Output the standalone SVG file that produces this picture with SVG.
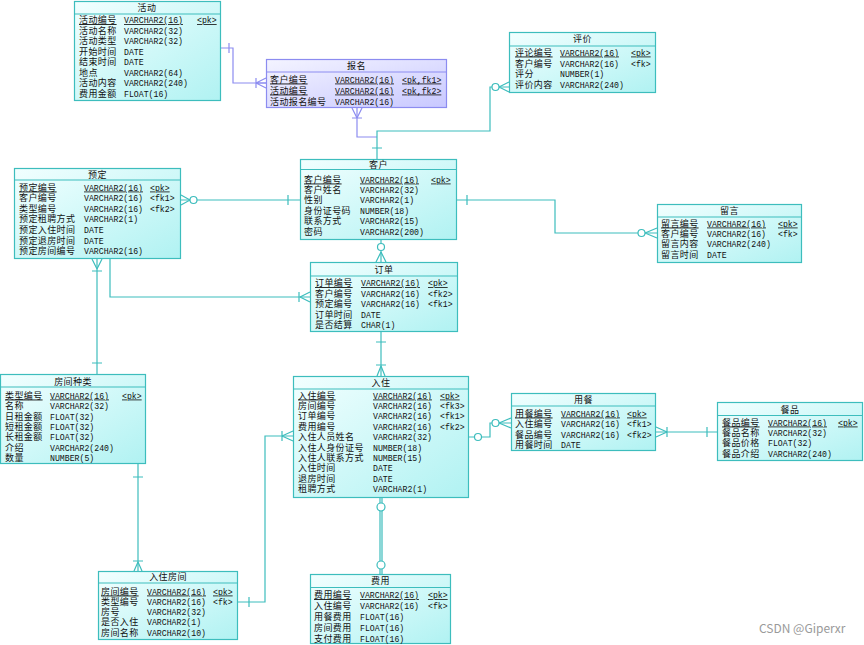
<svg xmlns="http://www.w3.org/2000/svg" width="864" height="645" viewBox="0 0 864 645">
<defs>
<linearGradient id="gc" x1="0" y1="0" x2="1" y2="1"><stop offset="0" stop-color="#f2ffff"/><stop offset="1" stop-color="#b0f2f2"/></linearGradient>
<linearGradient id="gp" x1="0" y1="0" x2="1" y2="1"><stop offset="0" stop-color="#f4f4ff"/><stop offset="1" stop-color="#c8c8ff"/></linearGradient>
<style>
.box{fill:url(#gc);stroke:#3dbdbd;stroke-width:1.2}
.boxp{fill:url(#gp);stroke:#8c8cf0;stroke-width:1.2}
.sep{stroke:#3dbdbd;stroke-width:1}
.sepp{stroke:#8c8cf0;stroke-width:1}
.c{font-family:"Noto Sans CJK SC","Noto Sans CJK JP",sans-serif;font-size:9px;letter-spacing:0.4px;fill:#111}
.m{font-family:"Liberation Mono",monospace;font-size:8.2px;fill:#111}
.ttl{text-anchor:middle}
.u{text-decoration:underline}
.ln{stroke:#3dbdbd;stroke-width:1.2;fill:none}
.lp{stroke:#8c8cf0;stroke-width:1.2;fill:none}
.ci{stroke:#3dbdbd;stroke-width:1.2;fill:#fff}
.wm{font-family:"Noto Sans CJK SC","Liberation Sans",sans-serif;font-size:12px;fill:#9a9a9a}
</style>
</defs>
<rect width="864" height="645" fill="#fff"/>

<g id="connectors">
<path class="lp" d="M220,48 H233 V83 H266"/>
<path class="lp" d="M229,43 V53 M256,78 V88 M256,83 L266,78 M256,83 L266,83 M256,83 L266,88"/>
<path class="lp" d="M357,108 V137 H377"/>
<path class="lp" d="M352,118 H362 M357,118 L352,108 M357,118 L362,108"/>
<path class="ln" d="M509,87 H490 V131 H377 V159"/>
<path class="ln" d="M499,87 L509,82 M499,87 L509,92 M372,148 H382"/>
<circle class="ci" cx="495.5" cy="87" r="3.5"/>
<path class="ln" d="M181,200 H300"/>
<path class="ln" d="M190,200 L181,195 M190,200 L181,205 M288,195 V205"/>
<circle class="ci" cx="193.5" cy="200" r="3.5"/>
<path class="ln" d="M457,200 H555 V233 H657"/>
<path class="ln" d="M467,195 V205 M645,233 L657,228 M645,233 L657,238"/>
<circle class="ci" cx="641.5" cy="233" r="3.5"/>
<path class="ln" d="M381,240 V262"/>
<path class="ln" d="M381,252 L376,262 M381,252 L386,262"/>
<circle class="ci" cx="381" cy="247" r="3.5"/>
<path class="ln" d="M110,259 V297 H310"/>
<path class="ln" d="M299,292 V302 M300,297 L310,292 M300,297 L310,302"/>
<path class="ln" d="M97,259 V374"/>
<path class="ln" d="M97,269 L92,259 M97,269 L102,259 M92,271 H102 M92,363 H102"/>
<path class="ln" d="M381,332 V376"/>
<path class="ln" d="M376,342 H386 M376,365 H386 M381,366 L377,376 M381,366 L385,376"/>
<path class="ln" d="M380,498 V574 M382,498 V574"/>
<circle class="ci" cx="381" cy="507" r="4"/>
<circle class="ci" cx="381" cy="565" r="4"/>
<path class="ln" d="M469,437 H490 V423 H511"/>
<path class="ln" d="M499,423 L511,418 M499,423 L511,428"/>
<circle class="ci" cx="478" cy="437" r="3.5"/>
<circle class="ci" cx="495.5" cy="423" r="3.5"/>
<path class="ln" d="M656,432 H717"/>
<path class="ln" d="M667,432 L656,427 M667,432 L656,437 M667,427 V437 M707,427 V437"/>
<path class="ln" d="M138,464 V571"/>
<path class="ln" d="M133,477 H143 M133,561 H143 M138,562 L134,571 M138,562 L142,571"/>
<path class="ln" d="M238,602 H265 V436 H293"/>
<path class="ln" d="M249,597 V607 M282,431 V441 M282,436 L293,431 M282,436 L293,441"/>
</g>

<g id="huodong">
<rect class="box" x="74.5" y="1.5" width="146" height="99"/>
<line class="sep" x1="74.5" y1="14" x2="220.5" y2="14"/>
<text class="c ttl" x="147" y="11">活动</text>
<text class="c u" x="79" y="23">活动编号</text><text class="m u" x="124" y="23">VARCHAR2(16)</text><text class="m u" x="197" y="23">&lt;pk&gt;</text>
<text class="c" x="79" y="33.5">活动名称</text><text class="m" x="124" y="33.5">VARCHAR2(32)</text>
<text class="c" x="79" y="44">活动类型</text><text class="m" x="124" y="44">VARCHAR2(32)</text>
<text class="c" x="79" y="54.5">开始时间</text><text class="m" x="124" y="54.5">DATE</text>
<text class="c" x="79" y="65">结束时间</text><text class="m" x="124" y="65">DATE</text>
<text class="c" x="79" y="75.5">地点</text><text class="m" x="124" y="75.5">VARCHAR2(64)</text>
<text class="c" x="79" y="86">活动内容</text><text class="m" x="124" y="86">VARCHAR2(240)</text>
<text class="c" x="79" y="96.5">费用金额</text><text class="m" x="124" y="96.5">FLOAT(16)</text>
</g>

<g id="baoming">
<rect class="boxp" x="266.5" y="59.5" width="180" height="48"/>
<line class="sepp" x1="266.5" y1="72" x2="446.5" y2="72"/>
<text class="c ttl" x="356.5" y="69">报名</text>
<text class="c u" x="270" y="82.5">客户编号</text><text class="m u" x="335" y="82.5">VARCHAR2(16)</text><text class="m u" x="402" y="82.5">&lt;pk,fk1&gt;</text>
<text class="c u" x="270" y="93.5">活动编号</text><text class="m u" x="335" y="93.5">VARCHAR2(16)</text><text class="m u" x="402" y="93.5">&lt;pk,fk2&gt;</text>
<text class="c" x="270" y="104.5">活动报名编号</text><text class="m" x="335" y="104.5">VARCHAR2(16)</text>
</g>

<g id="pingjia">
<rect class="box" x="509.5" y="32.5" width="146" height="60"/>
<line class="sep" x1="509.5" y1="46" x2="655.5" y2="46"/>
<text class="c ttl" x="582.5" y="42">评价</text>
<text class="c u" x="515" y="55.5">评论编号</text><text class="m u" x="560" y="55.5">VARCHAR2(16)</text><text class="m u" x="631" y="55.5">&lt;pk&gt;</text>
<text class="c" x="515" y="66.5">客户编号</text><text class="m" x="560" y="66.5">VARCHAR2(16)</text><text class="m" x="631" y="66.5">&lt;fk&gt;</text>
<text class="c" x="515" y="77">评分</text><text class="m" x="560" y="77">NUMBER(1)</text>
<text class="c" x="515" y="87.5">评价内容</text><text class="m" x="560" y="87.5">VARCHAR2(240)</text>
</g>

<g id="yuding">
<rect class="box" x="14.5" y="168.5" width="166" height="90"/>
<line class="sep" x1="14.5" y1="180" x2="180.5" y2="180"/>
<text class="c ttl" x="97.5" y="178">预定</text>
<text class="c u" x="19" y="190.5">预定编号</text><text class="m u" x="84" y="190.5">VARCHAR2(16)</text><text class="m u" x="150" y="190.5">&lt;pk&gt;</text>
<text class="c" x="19" y="201">客户编号</text><text class="m" x="84" y="201">VARCHAR2(16)</text><text class="m" x="150" y="201">&lt;fk1&gt;</text>
<text class="c" x="19" y="211.5">类型编号</text><text class="m" x="84" y="211.5">VARCHAR2(16)</text><text class="m" x="150" y="211.5">&lt;fk2&gt;</text>
<text class="c" x="19" y="222">预定租聘方式</text><text class="m" x="84" y="222">VARCHAR2(1)</text>
<text class="c" x="19" y="233">预定入住时间</text><text class="m" x="84" y="233">DATE</text>
<text class="c" x="19" y="243.5">预定退房时间</text><text class="m" x="84" y="243.5">DATE</text>
<text class="c" x="19" y="254">预定房间编号</text><text class="m" x="84" y="254">VARCHAR2(16)</text>
</g>

<g id="kehu">
<rect class="box" x="300.5" y="159.5" width="156" height="80"/>
<line class="sep" x1="300.5" y1="169.5" x2="456.5" y2="169.5"/>
<text class="c ttl" x="378.5" y="168">客户</text>
<text class="c u" x="304" y="182.5">客户编号</text><text class="m u" x="360" y="182.5">VARCHAR2(16)</text><text class="m u" x="431" y="182.5">&lt;pk&gt;</text>
<text class="c" x="304" y="193">客户姓名</text><text class="m" x="360" y="193">VARCHAR2(32)</text>
<text class="c" x="304" y="203">性别</text><text class="m" x="360" y="203">VARCHAR2(1)</text>
<text class="c" x="304" y="213.5">身份证号码</text><text class="m" x="360" y="213.5">NUMBER(18)</text>
<text class="c" x="304" y="224">联系方式</text><text class="m" x="360" y="224">VARCHAR2(15)</text>
<text class="c" x="304" y="234.5">密码</text><text class="m" x="360" y="234.5">VARCHAR2(200)</text>
</g>

<g id="liuyan">
<rect class="box" x="657.5" y="204.5" width="144" height="58"/>
<line class="sep" x1="657.5" y1="217" x2="801.5" y2="217"/>
<text class="c ttl" x="729.5" y="214">留言</text>
<text class="c u" x="661" y="226.5">留言编号</text><text class="m u" x="707" y="226.5">VARCHAR2(16)</text><text class="m u" x="778" y="226.5">&lt;pk&gt;</text>
<text class="c" x="661" y="236.5">客户编号</text><text class="m" x="707" y="236.5">VARCHAR2(16)</text><text class="m" x="778" y="236.5">&lt;fk&gt;</text>
<text class="c" x="661" y="247">留言内容</text><text class="m" x="707" y="247">VARCHAR2(240)</text>
<text class="c" x="661" y="257.5">留言时间</text><text class="m" x="707" y="257.5">DATE</text>
</g>

<g id="dingdan">
<rect class="box" x="310.5" y="262.5" width="147" height="69"/>
<line class="sep" x1="310.5" y1="276" x2="457.5" y2="276"/>
<text class="c ttl" x="384" y="273">订单</text>
<text class="c u" x="315" y="286">订单编号</text><text class="m u" x="361" y="286">VARCHAR2(16)</text><text class="m u" x="428" y="286">&lt;pk&gt;</text>
<text class="c" x="315" y="296.5">客户编号</text><text class="m" x="361" y="296.5">VARCHAR2(16)</text><text class="m" x="428" y="296.5">&lt;fk2&gt;</text>
<text class="c" x="315" y="307">预定编号</text><text class="m" x="361" y="307">VARCHAR2(16)</text><text class="m" x="428" y="307">&lt;fk1&gt;</text>
<text class="c" x="315" y="317.5">订单时间</text><text class="m" x="361" y="317.5">DATE</text>
<text class="c" x="315" y="328">是否结算</text><text class="m" x="361" y="328">CHAR(1)</text>
</g>

<g id="fangjianzhonglei">
<rect class="box" x="0.5" y="374.5" width="145" height="89"/>
<line class="sep" x1="0.5" y1="387" x2="145.5" y2="387"/>
<text class="c ttl" x="73" y="385">房间种类</text>
<text class="c u" x="5" y="398.5">类型编号</text><text class="m u" x="50" y="398.5">VARCHAR2(16)</text><text class="m u" x="122" y="398.5">&lt;pk&gt;</text>
<text class="c" x="5" y="409">名称</text><text class="m" x="50" y="409">VARCHAR2(32)</text>
<text class="c" x="5" y="419.5">日租金额</text><text class="m" x="50" y="419.5">FLOAT(32)</text>
<text class="c" x="5" y="429.5">短租金额</text><text class="m" x="50" y="429.5">FLOAT(32)</text>
<text class="c" x="5" y="440">长租金额</text><text class="m" x="50" y="440">FLOAT(32)</text>
<text class="c" x="5" y="450.5">介绍</text><text class="m" x="50" y="450.5">VARCHAR2(240)</text>
<text class="c" x="5" y="461">数量</text><text class="m" x="50" y="461">NUMBER(5)</text>
</g>

<g id="ruzhu">
<rect class="box" x="293.5" y="376.5" width="175" height="121"/>
<line class="sep" x1="293.5" y1="389" x2="468.5" y2="389"/>
<text class="c ttl" x="381" y="386">入住</text>
<text class="c u" x="298" y="398.5">入住编号</text><text class="m u" x="373" y="398.5">VARCHAR2(16)</text><text class="m u" x="440" y="398.5">&lt;pk&gt;</text>
<text class="c" x="298" y="409">房间编号</text><text class="m" x="373" y="409">VARCHAR2(16)</text><text class="m" x="440" y="409">&lt;fk3&gt;</text>
<text class="c" x="298" y="419.3">订单编号</text><text class="m" x="373" y="419.3">VARCHAR2(16)</text><text class="m" x="440" y="419.3">&lt;fk1&gt;</text>
<text class="c" x="298" y="429.7">费用编号</text><text class="m" x="373" y="429.7">VARCHAR2(16)</text><text class="m" x="440" y="429.7">&lt;fk2&gt;</text>
<text class="c" x="298" y="440.1">入住人员姓名</text><text class="m" x="373" y="440.1">VARCHAR2(32)</text>
<text class="c" x="298" y="450.5">入住人身份证号</text><text class="m" x="373" y="450.5">NUMBER(18)</text>
<text class="c" x="298" y="460.9">入住人联系方式</text><text class="m" x="373" y="460.9">NUMBER(15)</text>
<text class="c" x="298" y="471.3">入住时间</text><text class="m" x="373" y="471.3">DATE</text>
<text class="c" x="298" y="481.7">退房时间</text><text class="m" x="373" y="481.7">DATE</text>
<text class="c" x="298" y="492.1">租聘方式</text><text class="m" x="373" y="492.1">VARCHAR2(1)</text>
</g>

<g id="yongcan">
<rect class="box" x="511.5" y="393.5" width="144" height="57"/>
<line class="sep" x1="511.5" y1="406" x2="655.5" y2="406"/>
<text class="c ttl" x="583.5" y="403">用餐</text>
<text class="c u" x="515" y="416.5">用餐编号</text><text class="m u" x="561" y="416.5">VARCHAR2(16)</text><text class="m u" x="627" y="416.5">&lt;pk&gt;</text>
<text class="c" x="515" y="427">入住编号</text><text class="m" x="561" y="427">VARCHAR2(16)</text><text class="m" x="627" y="427">&lt;fk1&gt;</text>
<text class="c" x="515" y="437.5">餐品编号</text><text class="m" x="561" y="437.5">VARCHAR2(16)</text><text class="m" x="627" y="437.5">&lt;fk2&gt;</text>
<text class="c" x="515" y="448">用餐时间</text><text class="m" x="561" y="448">DATE</text>
</g>

<g id="canpin">
<rect class="box" x="717.5" y="402.5" width="145" height="58"/>
<line class="sep" x1="717.5" y1="415.5" x2="862.5" y2="415.5"/>
<text class="c ttl" x="790" y="412.5">餐品</text>
<text class="c u" x="722" y="425.5">餐品编号</text><text class="m u" x="768" y="425.5">VARCHAR2(16)</text><text class="m u" x="838" y="425.5">&lt;pk&gt;</text>
<text class="c" x="722" y="436">餐品名称</text><text class="m" x="768" y="436">VARCHAR2(32)</text>
<text class="c" x="722" y="446">餐品价格</text><text class="m" x="768" y="446">FLOAT(32)</text>
<text class="c" x="722" y="456.5">餐品介绍</text><text class="m" x="768" y="456.5">VARCHAR2(240)</text>
</g>

<g id="ruzhufangjian">
<rect class="box" x="98.5" y="571.5" width="139" height="68"/>
<line class="sep" x1="98.5" y1="583" x2="237.5" y2="583"/>
<text class="c ttl" x="168" y="580">入住房间</text>
<text class="c u" x="101" y="594.5">房间编号</text><text class="m u" x="147" y="594.5">VARCHAR2(16)</text><text class="m u" x="213" y="594.5">&lt;pk&gt;</text>
<text class="c" x="101" y="604.5">类型编号</text><text class="m" x="147" y="604.5">VARCHAR2(16)</text><text class="m" x="213" y="604.5">&lt;fk&gt;</text>
<text class="c" x="101" y="615">房号</text><text class="m" x="147" y="615">VARCHAR2(32)</text>
<text class="c" x="101" y="625">是否入住</text><text class="m" x="147" y="625">VARCHAR2(1)</text>
<text class="c" x="101" y="635.5">房间名称</text><text class="m" x="147" y="635.5">VARCHAR2(10)</text>
</g>

<g id="feiyong">
<rect class="box" x="310.5" y="574.5" width="140" height="69"/>
<line class="sep" x1="310.5" y1="587.5" x2="450.5" y2="587.5"/>
<text class="c ttl" x="380.5" y="584">费用</text>
<text class="c u" x="314" y="598">费用编号</text><text class="m u" x="360" y="598">VARCHAR2(16)</text><text class="m u" x="428" y="598">&lt;pk&gt;</text>
<text class="c" x="314" y="608.5">入住编号</text><text class="m" x="360" y="608.5">VARCHAR2(16)</text><text class="m" x="428" y="608.5">&lt;fk&gt;</text>
<text class="c" x="314" y="619.5">用餐费用</text><text class="m" x="360" y="619.5">FLOAT(16)</text>
<text class="c" x="314" y="630.5">房间费用</text><text class="m" x="360" y="630.5">FLOAT(16)</text>
<text class="c" x="314" y="641.5">支付费用</text><text class="m" x="360" y="641.5">FLOAT(16)</text>
</g>

<text class="wm" x="759" y="633">CSDN @Giperxr</text>
</svg>
